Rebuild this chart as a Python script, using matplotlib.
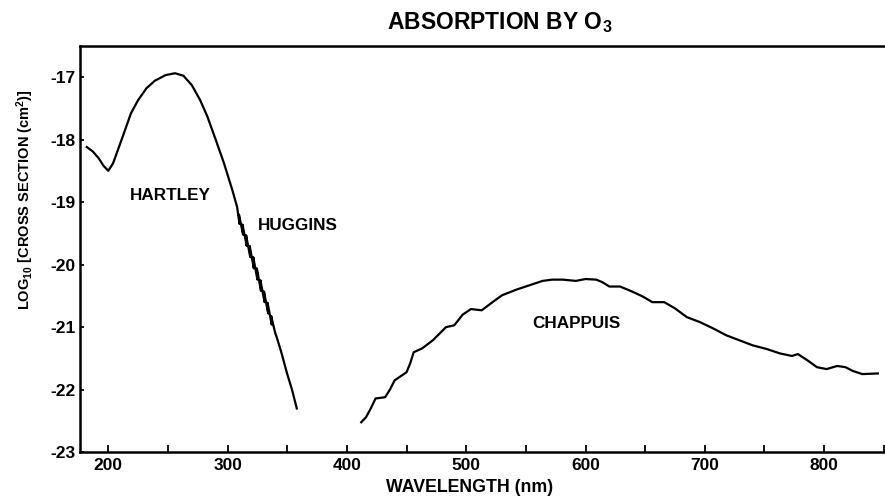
import matplotlib

matplotlib.use("Agg")
import matplotlib.pyplot as plt
from matplotlib.ticker import MultipleLocator

plt.rcParams.update({
    "font.family": ["Liberation Sans", "DejaVu Sans"],
    "font.weight": "bold",
    "mathtext.fontset": "custom",
    "mathtext.rm": "Liberation Sans:bold",
    "mathtext.it": "Liberation Sans:bold",
    "mathtext.bf": "Liberation Sans:bold",
    "mathtext.default": "rm",
})

# Hartley + Huggins bands (UV side)
uv_wavelength = [182, 187, 192, 196, 200, 204, 208, 214, 219, 225, 232, 239, 248, 256,
                 263, 270, 277, 283, 290, 297, 304, 308,
                 310, 309.5, 313, 312.5, 316, 315.5, 319, 318.5, 322, 321.5, 325, 324.5,
                 328, 327.5, 331, 330.5, 334, 333.5, 337, 336.5, 340, 341, 345, 350, 354, 358]
uv_log_sigma = [-18.12, -18.19, -18.30, -18.42, -18.50, -18.38, -18.17, -17.85, -17.58,
                -17.37, -17.18, -17.06, -16.97, -16.94, -16.98, -17.13, -17.37, -17.63,
                -18.00, -18.38, -18.81, -19.08,
                -19.35, -19.20, -19.52, -19.36, -19.70, -19.53, -19.88, -19.70, -20.06,
                -19.88, -20.24, -20.06, -20.42, -20.25, -20.60, -20.43, -20.78, -20.61,
                -20.96, -20.82, -21.10, -21.15, -21.40, -21.75, -22.00, -22.30]

# Chappuis band (visible side)
vis_wavelength = [412, 416, 420, 424, 432, 436, 440, 450, 453, 456, 463, 472, 483, 490,
                  497, 504, 513, 522, 530, 542, 553, 564, 572, 581, 592, 600, 609, 614,
                  620, 629, 639, 648, 656, 666, 675, 685, 696, 707, 718, 729, 740, 752,
                  763, 773, 778, 786, 794, 802, 811, 818, 824, 832, 845]
vis_log_sigma = [-22.52, -22.44, -22.30, -22.14, -22.12, -22.00, -21.85, -21.72, -21.58,
                 -21.40, -21.34, -21.21, -21.00, -20.97, -20.80, -20.71, -20.73, -20.60,
                 -20.49, -20.40, -20.33, -20.26, -20.24, -20.24, -20.26, -20.23, -20.24,
                 -20.28, -20.35, -20.35, -20.43, -20.51, -20.60, -20.60, -20.70, -20.84,
                 -20.92, -21.02, -21.13, -21.21, -21.29, -21.35, -21.42, -21.46, -21.43,
                 -21.53, -21.64, -21.67, -21.62, -21.64, -21.70, -21.75, -21.74]

band_names = ["HARTLEY", "HUGGINS", "CHAPPUIS"]
band_x = [252, 359, 592]
band_y = [-18.89, -19.38, -20.94]

fig = plt.figure(figsize=(8.85, 4.97), dpi=100)
ax = fig.add_axes([0.090, 0.090, 0.910, 0.818])

ax.plot(uv_wavelength, uv_log_sigma, color="black", linewidth=1.6, solid_joinstyle="round")
ax.plot(vis_wavelength, vis_log_sigma, color="black", linewidth=1.6, solid_joinstyle="round")

for name, x, y in zip(band_names, band_x, band_y):
    ax.text(x, y, name, ha="center", va="center", fontsize=12.3, fontweight="bold")

ax.set_xlim(176, 851)
ax.set_ylim(-23, -16.5)
ax.xaxis.set_major_locator(MultipleLocator(100))
ax.xaxis.set_minor_locator(MultipleLocator(50))
ax.set_xticks(range(200, 801, 100))
ax.set_yticks(range(-23, -16))
ax.set_yticklabels([f"-{abs(v)}" for v in range(-23, -16)])

ax.tick_params(axis="both", which="both", direction="in", width=1.3, labelsize=12.5, colors="black")
ax.tick_params(axis="x", which="major", length=5, pad=4)
ax.tick_params(axis="x", which="minor", length=5)
ax.tick_params(axis="y", which="major", length=3, pad=3)

for side in ["left", "bottom", "top"]:
    ax.spines[side].set_linewidth(1.8)
ax.spines["right"].set_visible(False)

fig.text(0.531, 0.020, "WAVELENGTH (nm)", ha="center", va="center",
         fontsize=12.8, fontweight="bold")
fig.text(0.028, 0.598, "LOG$_{10}$ [CROSS SECTION (cm$^2$)]", rotation=90,
         ha="center", va="center", fontsize=10.5, fontweight="bold")
fig.text(0.565, 0.955, "ABSORPTION BY O$_3$", ha="center", va="center",
         fontsize=16.5, fontweight="bold")

fig.savefig("out.png", dpi=100)
